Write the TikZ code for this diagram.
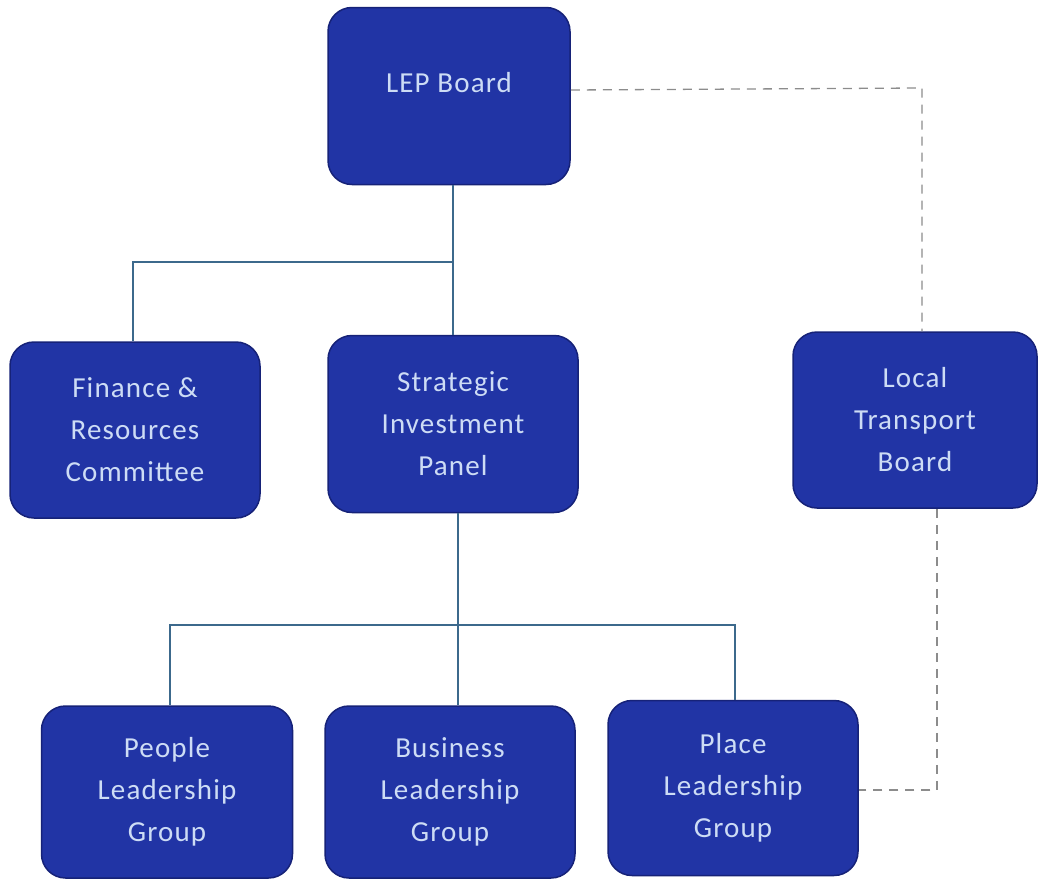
\documentclass[tikz,border=0pt]{standalone}
\usepackage{fontspec}
\setmainfont{Carlito}[LetterSpace=4]
\definecolor{boxfill}{RGB}{33,52,165}
\definecolor{boxedge}{RGB}{22,34,120}
\definecolor{boxtext}{RGB}{205,220,245}
\definecolor{linecol}{RGB}{60,105,140}
\definecolor{dashcol}{RGB}{140,140,140}
\begin{document}
\begin{tikzpicture}[x=1pt,y=-1pt,
  orgbox/.style={draw=boxedge,line width=1.5pt,fill=boxfill,rounded corners=24pt,
    text=boxtext,align=center,font=\fontsize{29}{42}\selectfont,inner sep=0pt},
  solidlink/.style={draw=linecol,line width=1.4pt},
  dashlink/.style={draw=dashcol,line width=1.3pt,dash pattern=on 9pt off 7pt}]
\useasboundingbox (0,0) rectangle (1039,881);
\node[orgbox,minimum width=242pt,minimum height=177pt] (lep) at (449,96) {\raisebox{4pt}[0pt][0pt]{LEP Board}};
\node[orgbox,minimum width=250pt,minimum height=176pt] (fin) at (135,430) {Finance \&\\Resources\\Committee};
\node[orgbox,minimum width=250pt,minimum height=177pt] (sip) at (453,424) {Strategic\\Investment\\Panel};
\node[orgbox,minimum width=244pt,minimum height=176pt] (ltb) at (915,420) {Local\\Transport\\Board};
\node[orgbox,minimum width=251pt,minimum height=172pt] (plg) at (167,792) {People\\Leadership\\Group};
\node[orgbox,minimum width=250pt,minimum height=172pt] (blg) at (450,792) {Business\\Leadership\\Group};
\node[orgbox,minimum width=250pt,minimum height=175pt] (pllg) at (733,788) {Place\\Leadership\\Group};
% solid links
\coordinate (j1) at (453,262);
\coordinate (j2) at (458,625);
\draw[solidlink] (lep.south -| j1) -- (j1);
\draw[solidlink] (j1) -| (fin.north -| 133,0);
\draw[solidlink] (j1) -- (sip.north -| j1);
\draw[solidlink] (sip.south -| j2) -- (j2);
\draw[solidlink] (j2) -| (plg.north -| 170,0);
\draw[solidlink] (j2) -- (blg.north -| j2);
\draw[solidlink] (j2) -| (pllg.north -| 735,0);
% dashed links
\coordinate (d1) at (922,88);
\coordinate (d2) at (937,790);
\draw[dashlink] (lep.east |- 0,90) -- (d1) -- (ltb.north -| d1);
\draw[dashlink] (ltb.south -| d2) -- (d2) -- (pllg.east |- d2);
\end{tikzpicture}
\end{document}
